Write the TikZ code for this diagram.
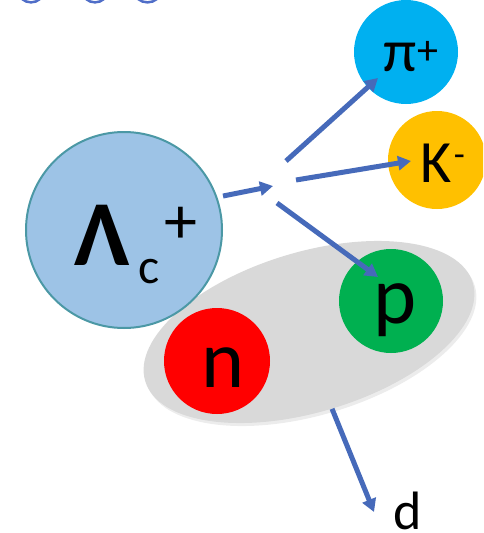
\documentclass[tikz,border=0pt]{standalone}
\usepackage{fontspec}
\setmainfont{Carlito}
\usetikzlibrary{arrows.meta,shapes.geometric,shadows}
\definecolor{arrowblue}{RGB}{70,106,186}
\definecolor{topblue}{RGB}{80,110,200}
\definecolor{lamfill}{RGB}{157,195,230}
\definecolor{lamline}{RGB}{75,152,165}
\definecolor{pifill}{RGB}{0,176,240}
\definecolor{kfill}{RGB}{255,192,0}
\definecolor{pfill}{RGB}{0,176,80}
\definecolor{nfill}{RGB}{255,0,0}
\definecolor{dfill}{RGB}{217,217,217}
\tikzset{
  particle/.style={circle, inner sep=0pt},
  lbl/.style={anchor=base, inner sep=0pt, text=black},
  decay/.style={draw=arrowblue, line width=5pt, -{Triangle[length=13pt,width=14pt]}},
  remnant/.style={draw=topblue, line width=2.5pt},
}
\begin{document}
\begin{tikzpicture}[x=1pt,y=-1pt]
\useasboundingbox (0,0) rectangle (483,533);
\clip (0,0) rectangle (483,533);
% cut-off title remnants
\draw[remnant] (22,-1) .. controls (27,3.5) and (35,3.5) .. (40,-1);
\draw[remnant] (86,-1) .. controls (91,3.5) and (99,3.5) .. (104,-1);
\draw[remnant] (138,-1) .. controls (143,3.5) and (152,3.5) .. (157,-1);
% deuteron
\node[ellipse, fill=dfill, minimum width=342pt, minimum height=160pt, rotate=16.7, inner sep=0pt,
      drop shadow={opacity=0.15, shadow xshift=2pt, shadow yshift=-3pt}] (deut) at (309,332) {};
% particles
\node[particle, fill=nfill, minimum size=106pt] (n) at (217,361) {};
\node[particle, fill=pfill, minimum size=104pt] (p) at (391,301) {};
\node[particle, fill=pifill, minimum size=104pt] (pi) at (406,52) {};
\node[particle, fill=kfill, minimum size=98pt] (K) at (437,160) {};
\node[particle, fill=lamfill, draw=lamline, line width=2pt, minimum size=196pt] (lam) at (124,230) {};
% labels
\node[lbl, font=\fontsize{93}{93}\selectfont\bfseries] (lamL) at (102,265) {Λ};
\node[lbl, font=\fontsize{50}{50}\selectfont] (lamc) at (149,283) {c};
\node[lbl, font=\fontsize{66}{66}\selectfont] (lamp) at (181,243) {+};
\node[lbl, font=\fontsize{60}{60}\selectfont] (piL) at (400,71) {π};
\node[lbl, font=\fontsize{42}{42}\selectfont] (pip) at (428,64) {+};
\node[lbl, font=\fontsize{60}{60}\selectfont] (KL) at (436,182) {K};
\node[lbl, font=\fontsize{36}{36}\selectfont] (Km) at (459.5,166) {-};
\node[lbl, font=\fontsize{82}{82}\selectfont] (pL) at (395,323) {p};
\node[lbl, font=\fontsize{82}{82}\selectfont] (nL) at (223,387) {n};
\node[lbl, font=\fontsize{54}{54}\selectfont] (dL) at (408,529) {d};
% decay vertex and arrows
\coordinate (s1) at (223,196);
\coordinate (v1) at (273,186);
\coordinate (s2) at (286,161);
\coordinate (t2) at (378,78);
\coordinate (s3) at (296,180);
\coordinate (t3) at (411,161);
\coordinate (s4) at (277,203);
\coordinate (t4) at (378,277);
\coordinate (t5) at (374,512);
\draw[decay] (s1) -- (v1);
\draw[decay] (s2) -- (t2);
\draw[decay] (s3) -- (t3);
\draw[decay] (s4) -- (t4);
\draw[decay] (deut.south) -- (t5);
\end{tikzpicture}
\end{document}
